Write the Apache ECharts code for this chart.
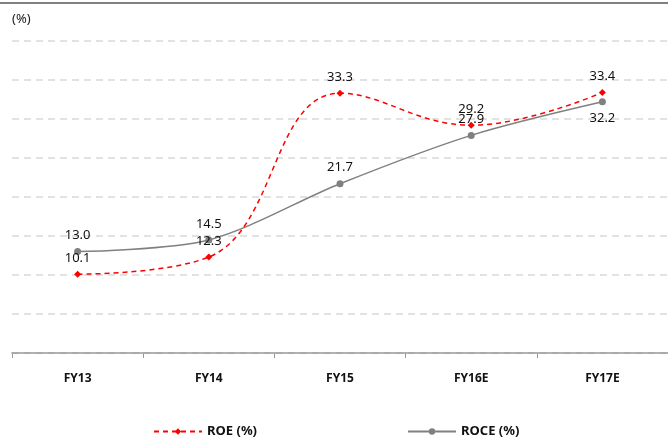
<!DOCTYPE html>
<html>
<head>
<meta charset="utf-8">
<script src="https://cdn.jsdelivr.net/npm/echarts@6/dist/echarts.min.js"></script>
<style>
  html, body { margin: 0; padding: 0; background: #fff; }
  #chart { width: 668px; height: 440px; }
</style>
</head>
<body>
<div id="chart"></div>
<script>
// Return ratios by fiscal year
const years = ['FY13', 'FY14', 'FY15', 'FY16E', 'FY17E'];
const roe = [10.1, 12.3, 33.3, 29.2, 33.4];
const roce = [13.0, 14.5, 21.7, 27.9, 32.2];
// ROCE label placement per year (last point sits below its marker)
const rocePos = ['top', 'top', 'top', 'top', 'bottom'];

const FONT = '"Noto Sans", "DejaVu Sans", sans-serif';

const chart = echarts.init(document.getElementById('chart'), null, { renderer: 'canvas' });

chart.setOption({
  animation: false,
  textStyle: { fontFamily: FONT },
  graphic: [{
    type: 'rect',
    shape: { x: 0, y: 2, width: 668, height: 2 },
    style: { fill: '#808080' },
    silent: true
  }, {
    type: 'text',
    left: 12, top: 13,
    style: { text: '(%)', font: '13px ' + FONT, fill: '#222' }
  }],
  grid: { left: 12, right: -2, top: 41, bottom: 87, containLabel: false },
  legend: {
    bottom: -3,
    left: 148,
    itemWidth: 48,
    itemHeight: 8,
    itemGap: 150,
    textStyle: { fontFamily: FONT, fontSize: 13, fontWeight: 'bold', color: '#111' },
    data: ['ROE (%)', 'ROCE (%)']
  },
  xAxis: {
    type: 'category',
    data: years,
    boundaryGap: true,
    axisLine: { lineStyle: { color: '#999', width: 1.5 } },
    axisTick: { show: true, length: 5, lineStyle: { color: '#999' } },
    axisLabel: { margin: 20, fontSize: 12, fontWeight: 'bold', color: '#111', fontFamily: FONT },
    splitLine: { show: false }
  },
  yAxis: {
    type: 'value',
    min: 0, max: 40, interval: 5,
    axisLine: { show: false },
    axisTick: { show: false },
    axisLabel: { show: false },
    splitLine: { lineStyle: { color: '#d9d9d9', type: [7, 5], width: 1.5 } }
  },
  series: [{
    name: 'ROE (%)',
    type: 'line',
    data: roe,
    smooth: 0.42,
    symbol: 'diamond',
    symbolSize: 7,
    itemStyle: { color: '#ff0000' },
    lineStyle: { color: '#ff0000', width: 1.5, type: [5, 4] },
    label: {
      show: true, position: 'top', distance: 6,
      formatter: p => p.value.toFixed(1),
      fontSize: 13, color: '#111', fontFamily: FONT
    },
    z: 3
  }, {
    name: 'ROCE (%)',
    type: 'line',
    data: roce.map((v, i) => ({
      value: v,
      label: { position: rocePos[i] }
    })),
    smooth: 0.3,
    symbol: 'circle',
    symbolSize: 7,
    itemStyle: { color: '#808080' },
    lineStyle: { color: '#808080', width: 1.5 },
    label: {
      show: true, distance: 6,
      formatter: p => p.value.toFixed(1),
      fontSize: 13, color: '#111', fontFamily: FONT
    },
    z: 2
  }]
});
</script>
</body>
</html>
